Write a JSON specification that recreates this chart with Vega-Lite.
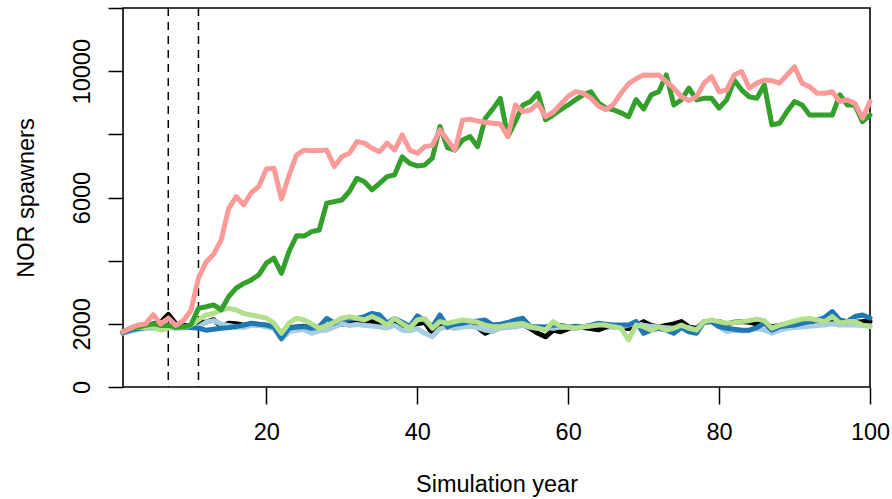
{
"$schema":"https://vega.github.io/schema/vega-lite/v6.json",
"width":747,"height":379,
"autosize":{"type":"none"},
"padding":{"left":123,"top":8,"right":22,"bottom":112},
"background":"white",
"config":{"view":{"stroke":"black","strokeWidth":1.6},"font":"Liberation Sans",
"axis":{"grid":false,"domain":false,"tickColor":"black","tickWidth":1.5,"labelColor":"black","titleColor":"black","labelFont":"Liberation Sans","titleFont":"Liberation Sans","titleFontWeight":"normal","labelFontSize":23.5,"titleFontSize":23.5}},
"layer":[
{"data":{"values":[{"year":7},{"year":11}]},
"mark":{"type":"rule","strokeDash":[8,6],"strokeWidth":1.5,"color":"black"},
"encoding":{"x":{"field":"year","type":"quantitative","title":"Simulation year","scale":{"domain":[1,100],"nice":false,"zero":false}}}},
{"data":{"values":[
{"series":"K","year":1,"value":1720},{"series":"K","year":2,"value":1820},{"series":"K","year":3,"value":1870},{"series":"K","year":4,"value":1900},{"series":"K","year":5,"value":2000},{"series":"K","year":6,"value":2050},{"series":"K","year":7,"value":2300},{"series":"K","year":8,"value":2000},{"series":"K","year":9,"value":1950},{"series":"K","year":10,"value":1950},
{"series":"K","year":11,"value":2050},{"series":"K","year":12,"value":2050},{"series":"K","year":13,"value":2130},{"series":"K","year":14,"value":1920},{"series":"K","year":15,"value":2020},{"series":"K","year":16,"value":2000},{"series":"K","year":17,"value":1960},{"series":"K","year":18,"value":2000},{"series":"K","year":19,"value":1980},{"series":"K","year":20,"value":1950},
{"series":"K","year":21,"value":1900},{"series":"K","year":22,"value":1620},{"series":"K","year":23,"value":1880},{"series":"K","year":24,"value":1900},{"series":"K","year":25,"value":1920},{"series":"K","year":26,"value":1880},{"series":"K","year":27,"value":1850},{"series":"K","year":28,"value":1900},{"series":"K","year":29,"value":1950},{"series":"K","year":30,"value":1990},
{"series":"K","year":31,"value":2000},{"series":"K","year":32,"value":2050},{"series":"K","year":33,"value":2100},{"series":"K","year":34,"value":2080},{"series":"K","year":35,"value":2000},{"series":"K","year":36,"value":1900},{"series":"K","year":37,"value":2050},{"series":"K","year":38,"value":1900},{"series":"K","year":39,"value":1930},{"series":"K","year":40,"value":2000},
{"series":"K","year":41,"value":2050},{"series":"K","year":42,"value":1700},{"series":"K","year":43,"value":1950},{"series":"K","year":44,"value":1900},{"series":"K","year":45,"value":1950},{"series":"K","year":46,"value":2000},{"series":"K","year":47,"value":2030},{"series":"K","year":48,"value":1880},{"series":"K","year":49,"value":1700},{"series":"K","year":50,"value":1800},
{"series":"K","year":51,"value":1880},{"series":"K","year":52,"value":1900},{"series":"K","year":53,"value":1950},{"series":"K","year":54,"value":1980},{"series":"K","year":55,"value":1850},{"series":"K","year":56,"value":1700},{"series":"K","year":57,"value":1590},{"series":"K","year":58,"value":1800},{"series":"K","year":59,"value":1750},{"series":"K","year":60,"value":1850},
{"series":"K","year":61,"value":1900},{"series":"K","year":62,"value":1880},{"series":"K","year":63,"value":1850},{"series":"K","year":64,"value":1810},{"series":"K","year":65,"value":1900},{"series":"K","year":66,"value":1920},{"series":"K","year":67,"value":1880},{"series":"K","year":68,"value":1850},{"series":"K","year":69,"value":1950},{"series":"K","year":70,"value":2070},
{"series":"K","year":71,"value":1950},{"series":"K","year":72,"value":1900},{"series":"K","year":73,"value":1950},{"series":"K","year":74,"value":2000},{"series":"K","year":75,"value":2070},{"series":"K","year":76,"value":1900},{"series":"K","year":77,"value":1850},{"series":"K","year":78,"value":2050},{"series":"K","year":79,"value":2070},{"series":"K","year":80,"value":2070},
{"series":"K","year":81,"value":2000},{"series":"K","year":82,"value":2050},{"series":"K","year":83,"value":2070},{"series":"K","year":84,"value":2050},{"series":"K","year":85,"value":2000},{"series":"K","year":86,"value":2020},{"series":"K","year":87,"value":1900},{"series":"K","year":88,"value":1950},{"series":"K","year":89,"value":2000},{"series":"K","year":90,"value":2020},
{"series":"K","year":91,"value":2050},{"series":"K","year":92,"value":2050},{"series":"K","year":93,"value":2100},{"series":"K","year":94,"value":2120},{"series":"K","year":95,"value":2100},{"series":"K","year":96,"value":2050},{"series":"K","year":97,"value":2020},{"series":"K","year":98,"value":2050},{"series":"K","year":99,"value":2070},{"series":"K","year":100,"value":2070},
{"series":"LB","year":1,"value":1700},{"series":"LB","year":2,"value":1760},{"series":"LB","year":3,"value":1820},{"series":"LB","year":4,"value":1850},{"series":"LB","year":5,"value":1870},{"series":"LB","year":6,"value":1850},{"series":"LB","year":7,"value":1880},{"series":"LB","year":8,"value":1860},{"series":"LB","year":9,"value":1870},{"series":"LB","year":10,"value":1900},
{"series":"LB","year":11,"value":1900},{"series":"LB","year":12,"value":2050},{"series":"LB","year":13,"value":2100},{"series":"LB","year":14,"value":2000},{"series":"LB","year":15,"value":1950},{"series":"LB","year":16,"value":1900},{"series":"LB","year":17,"value":1880},{"series":"LB","year":18,"value":1950},{"series":"LB","year":19,"value":1950},{"series":"LB","year":20,"value":1900},
{"series":"LB","year":21,"value":1850},{"series":"LB","year":22,"value":1500},{"series":"LB","year":23,"value":1750},{"series":"LB","year":24,"value":1800},{"series":"LB","year":25,"value":1820},{"series":"LB","year":26,"value":1700},{"series":"LB","year":27,"value":1780},{"series":"LB","year":28,"value":1800},{"series":"LB","year":29,"value":1900},{"series":"LB","year":30,"value":2000},
{"series":"LB","year":31,"value":1950},{"series":"LB","year":32,"value":1980},{"series":"LB","year":33,"value":1950},{"series":"LB","year":34,"value":1930},{"series":"LB","year":35,"value":1900},{"series":"LB","year":36,"value":1870},{"series":"LB","year":37,"value":1950},{"series":"LB","year":38,"value":1800},{"series":"LB","year":39,"value":1780},{"series":"LB","year":40,"value":1850},
{"series":"LB","year":41,"value":1700},{"series":"LB","year":42,"value":1590},{"series":"LB","year":43,"value":1850},{"series":"LB","year":44,"value":1910},{"series":"LB","year":45,"value":1850},{"series":"LB","year":46,"value":1900},{"series":"LB","year":47,"value":1920},{"series":"LB","year":48,"value":1880},{"series":"LB","year":49,"value":1800},{"series":"LB","year":50,"value":1760},
{"series":"LB","year":51,"value":1860},{"series":"LB","year":52,"value":1880},{"series":"LB","year":53,"value":1900},{"series":"LB","year":54,"value":1960},{"series":"LB","year":55,"value":1880},{"series":"LB","year":56,"value":1860},{"series":"LB","year":57,"value":1880},{"series":"LB","year":58,"value":1860},{"series":"LB","year":59,"value":1900},{"series":"LB","year":60,"value":1880},
{"series":"LB","year":61,"value":1850},{"series":"LB","year":62,"value":1900},{"series":"LB","year":63,"value":1950},{"series":"LB","year":64,"value":2010},{"series":"LB","year":65,"value":1960},{"series":"LB","year":66,"value":1880},{"series":"LB","year":67,"value":1900},{"series":"LB","year":68,"value":1960},{"series":"LB","year":69,"value":2010},{"series":"LB","year":70,"value":1960},
{"series":"LB","year":71,"value":1920},{"series":"LB","year":72,"value":1900},{"series":"LB","year":73,"value":1880},{"series":"LB","year":74,"value":1860},{"series":"LB","year":75,"value":1900},{"series":"LB","year":76,"value":1880},{"series":"LB","year":77,"value":1800},{"series":"LB","year":78,"value":2050},{"series":"LB","year":79,"value":2100},{"series":"LB","year":80,"value":1900},
{"series":"LB","year":81,"value":1750},{"series":"LB","year":82,"value":1800},{"series":"LB","year":83,"value":1780},{"series":"LB","year":84,"value":1800},{"series":"LB","year":85,"value":1850},{"series":"LB","year":86,"value":1800},{"series":"LB","year":87,"value":1700},{"series":"LB","year":88,"value":1800},{"series":"LB","year":89,"value":1850},{"series":"LB","year":90,"value":1880},
{"series":"LB","year":91,"value":1900},{"series":"LB","year":92,"value":1920},{"series":"LB","year":93,"value":1950},{"series":"LB","year":94,"value":1960},{"series":"LB","year":95,"value":2000},{"series":"LB","year":96,"value":1960},{"series":"LB","year":97,"value":1960},{"series":"LB","year":98,"value":1960},{"series":"LB","year":99,"value":1950},{"series":"LB","year":100,"value":1940},
{"series":"DB","year":1,"value":1720},{"series":"DB","year":2,"value":1800},{"series":"DB","year":3,"value":1850},{"series":"DB","year":4,"value":1880},{"series":"DB","year":5,"value":1910},{"series":"DB","year":6,"value":1900},{"series":"DB","year":7,"value":1900},{"series":"DB","year":8,"value":1880},{"series":"DB","year":9,"value":1900},{"series":"DB","year":10,"value":1880},
{"series":"DB","year":11,"value":1860},{"series":"DB","year":12,"value":1800},{"series":"DB","year":13,"value":1830},{"series":"DB","year":14,"value":1860},{"series":"DB","year":15,"value":1880},{"series":"DB","year":16,"value":1910},{"series":"DB","year":17,"value":1960},{"series":"DB","year":18,"value":2020},{"series":"DB","year":19,"value":1990},{"series":"DB","year":20,"value":1960},
{"series":"DB","year":21,"value":1900},{"series":"DB","year":22,"value":1540},{"series":"DB","year":23,"value":1860},{"series":"DB","year":24,"value":1900},{"series":"DB","year":25,"value":1910},{"series":"DB","year":26,"value":1860},{"series":"DB","year":27,"value":1900},{"series":"DB","year":28,"value":2170},{"series":"DB","year":29,"value":2020},{"series":"DB","year":30,"value":2170},
{"series":"DB","year":31,"value":2150},{"series":"DB","year":32,"value":2170},{"series":"DB","year":33,"value":2230},{"series":"DB","year":34,"value":2330},{"series":"DB","year":35,"value":2280},{"series":"DB","year":36,"value":2020},{"series":"DB","year":37,"value":2170},{"series":"DB","year":38,"value":2050},{"series":"DB","year":39,"value":1910},{"series":"DB","year":40,"value":2250},
{"series":"DB","year":41,"value":2100},{"series":"DB","year":42,"value":1910},{"series":"DB","year":43,"value":2280},{"series":"DB","year":44,"value":1910},{"series":"DB","year":45,"value":1990},{"series":"DB","year":46,"value":2020},{"series":"DB","year":47,"value":2070},{"series":"DB","year":48,"value":2090},{"series":"DB","year":49,"value":2120},{"series":"DB","year":50,"value":1960},
{"series":"DB","year":51,"value":1990},{"series":"DB","year":52,"value":2040},{"series":"DB","year":53,"value":2120},{"series":"DB","year":54,"value":2175},{"series":"DB","year":55,"value":1910},{"series":"DB","year":56,"value":1910},{"series":"DB","year":57,"value":1900},{"series":"DB","year":58,"value":1960},{"series":"DB","year":59,"value":1950},{"series":"DB","year":60,"value":1910},
{"series":"DB","year":61,"value":1920},{"series":"DB","year":62,"value":1910},{"series":"DB","year":63,"value":1950},{"series":"DB","year":64,"value":2020},{"series":"DB","year":65,"value":1990},{"series":"DB","year":66,"value":1960},{"series":"DB","year":67,"value":1960},{"series":"DB","year":68,"value":1960},{"series":"DB","year":69,"value":2070},{"series":"DB","year":70,"value":1700},
{"series":"DB","year":71,"value":1800},{"series":"DB","year":72,"value":1860},{"series":"DB","year":73,"value":1800},{"series":"DB","year":74,"value":1700},{"series":"DB","year":75,"value":1880},{"series":"DB","year":76,"value":1750},{"series":"DB","year":77,"value":1700},{"series":"DB","year":78,"value":2070},{"series":"DB","year":79,"value":2070},{"series":"DB","year":80,"value":1910},
{"series":"DB","year":81,"value":1860},{"series":"DB","year":82,"value":1830},{"series":"DB","year":83,"value":1800},{"series":"DB","year":84,"value":1800},{"series":"DB","year":85,"value":1880},{"series":"DB","year":86,"value":2020},{"series":"DB","year":87,"value":1800},{"series":"DB","year":88,"value":1910},{"series":"DB","year":89,"value":1940},{"series":"DB","year":90,"value":1960},
{"series":"DB","year":91,"value":2020},{"series":"DB","year":92,"value":2070},{"series":"DB","year":93,"value":2120},{"series":"DB","year":94,"value":2200},{"series":"DB","year":95,"value":2390},{"series":"DB","year":96,"value":2120},{"series":"DB","year":97,"value":2070},{"series":"DB","year":98,"value":2230},{"series":"DB","year":99,"value":2280},{"series":"DB","year":100,"value":2180},
{"series":"LG","year":1,"value":1750},{"series":"LG","year":2,"value":1860},{"series":"LG","year":3,"value":1900},{"series":"LG","year":4,"value":1880},{"series":"LG","year":5,"value":1900},{"series":"LG","year":6,"value":1800},{"series":"LG","year":7,"value":1860},{"series":"LG","year":8,"value":1910},{"series":"LG","year":9,"value":1880},{"series":"LG","year":10,"value":1960},
{"series":"LG","year":11,"value":2120},{"series":"LG","year":12,"value":2280},{"series":"LG","year":13,"value":2330},{"series":"LG","year":14,"value":2440},{"series":"LG","year":15,"value":2490},{"series":"LG","year":16,"value":2440},{"series":"LG","year":17,"value":2330},{"series":"LG","year":18,"value":2280},{"series":"LG","year":19,"value":2230},{"series":"LG","year":20,"value":2180},
{"series":"LG","year":21,"value":2020},{"series":"LG","year":22,"value":1700},{"series":"LG","year":23,"value":2020},{"series":"LG","year":24,"value":2180},{"series":"LG","year":25,"value":2120},{"series":"LG","year":26,"value":2000},{"series":"LG","year":27,"value":1860},{"series":"LG","year":28,"value":1950},{"series":"LG","year":29,"value":2050},{"series":"LG","year":30,"value":2175},
{"series":"LG","year":31,"value":2230},{"series":"LG","year":32,"value":2175},{"series":"LG","year":33,"value":2120},{"series":"LG","year":34,"value":2230},{"series":"LG","year":35,"value":2120},{"series":"LG","year":36,"value":1960},{"series":"LG","year":37,"value":2170},{"series":"LG","year":38,"value":2000},{"series":"LG","year":39,"value":1860},{"series":"LG","year":40,"value":2120},
{"series":"LG","year":41,"value":2170},{"series":"LG","year":42,"value":1860},{"series":"LG","year":43,"value":2070},{"series":"LG","year":44,"value":2020},{"series":"LG","year":45,"value":2070},{"series":"LG","year":46,"value":2120},{"series":"LG","year":47,"value":2090},{"series":"LG","year":48,"value":2050},{"series":"LG","year":49,"value":1960},{"series":"LG","year":50,"value":1910},
{"series":"LG","year":51,"value":1910},{"series":"LG","year":52,"value":1960},{"series":"LG","year":53,"value":1990},{"series":"LG","year":54,"value":2010},{"series":"LG","year":55,"value":1910},{"series":"LG","year":56,"value":1860},{"series":"LG","year":57,"value":1800},{"series":"LG","year":58,"value":2070},{"series":"LG","year":59,"value":1910},{"series":"LG","year":60,"value":1910},
{"series":"LG","year":61,"value":1860},{"series":"LG","year":62,"value":1910},{"series":"LG","year":63,"value":1930},{"series":"LG","year":64,"value":1960},{"series":"LG","year":65,"value":1960},{"series":"LG","year":66,"value":1910},{"series":"LG","year":67,"value":1860},{"series":"LG","year":68,"value":1490},{"series":"LG","year":69,"value":1960},{"series":"LG","year":70,"value":1910},
{"series":"LG","year":71,"value":1800},{"series":"LG","year":72,"value":1910},{"series":"LG","year":73,"value":1800},{"series":"LG","year":74,"value":1860},{"series":"LG","year":75,"value":1960},{"series":"LG","year":76,"value":1860},{"series":"LG","year":77,"value":1800},{"series":"LG","year":78,"value":2070},{"series":"LG","year":79,"value":2120},{"series":"LG","year":80,"value":2070},
{"series":"LG","year":81,"value":2020},{"series":"LG","year":82,"value":2040},{"series":"LG","year":83,"value":2070},{"series":"LG","year":84,"value":2100},{"series":"LG","year":85,"value":2150},{"series":"LG","year":86,"value":2100},{"series":"LG","year":87,"value":1860},{"series":"LG","year":88,"value":1960},{"series":"LG","year":89,"value":2020},{"series":"LG","year":90,"value":2090},
{"series":"LG","year":91,"value":2150},{"series":"LG","year":92,"value":2170},{"series":"LG","year":93,"value":2120},{"series":"LG","year":94,"value":2070},{"series":"LG","year":95,"value":2230},{"series":"LG","year":96,"value":2020},{"series":"LG","year":97,"value":2070},{"series":"LG","year":98,"value":2070},{"series":"LG","year":99,"value":1960},{"series":"LG","year":100,"value":1910},
{"series":"G","year":1,"value":1750},{"series":"G","year":2,"value":1860},{"series":"G","year":3,"value":1900},{"series":"G","year":4,"value":1950},{"series":"G","year":5,"value":2000},{"series":"G","year":6,"value":1950},{"series":"G","year":7,"value":1950},{"series":"G","year":8,"value":1900},{"series":"G","year":9,"value":1900},{"series":"G","year":10,"value":1970},
{"series":"G","year":11,"value":2490},{"series":"G","year":12,"value":2540},{"series":"G","year":13,"value":2600},{"series":"G","year":14,"value":2440},{"series":"G","year":15,"value":2860},{"series":"G","year":16,"value":3130},{"series":"G","year":17,"value":3280},{"series":"G","year":18,"value":3390},{"series":"G","year":19,"value":3550},{"series":"G","year":20,"value":3920},
{"series":"G","year":21,"value":4080},{"series":"G","year":22,"value":3600},{"series":"G","year":23,"value":4290},{"series":"G","year":24,"value":4790},{"series":"G","year":25,"value":4780},{"series":"G","year":26,"value":4920},{"series":"G","year":27,"value":4970},{"series":"G","year":28,"value":5820},{"series":"G","year":29,"value":5870},{"series":"G","year":30,"value":5920},
{"series":"G","year":31,"value":6190},{"series":"G","year":32,"value":6610},{"series":"G","year":33,"value":6500},{"series":"G","year":34,"value":6240},{"series":"G","year":35,"value":6450},{"series":"G","year":36,"value":6660},{"series":"G","year":37,"value":6720},{"series":"G","year":38,"value":7290},{"series":"G","year":39,"value":7080},{"series":"G","year":40,"value":7000},
{"series":"G","year":41,"value":7030},{"series":"G","year":42,"value":7250},{"series":"G","year":43,"value":8250},{"series":"G","year":44,"value":7580},{"series":"G","year":45,"value":7500},{"series":"G","year":46,"value":7820},{"series":"G","year":47,"value":7930},{"series":"G","year":48,"value":7610},{"series":"G","year":49,"value":8500},{"series":"G","year":50,"value":8800},
{"series":"G","year":51,"value":9140},{"series":"G","year":52,"value":7930},{"series":"G","year":53,"value":8400},{"series":"G","year":54,"value":8930},{"series":"G","year":55,"value":9040},{"series":"G","year":56,"value":9300},{"series":"G","year":57,"value":8460},{"series":"G","year":58,"value":8610},{"series":"G","year":59,"value":8780},{"series":"G","year":60,"value":8930},
{"series":"G","year":61,"value":9100},{"series":"G","year":62,"value":9250},{"series":"G","year":63,"value":9350},{"series":"G","year":64,"value":9000},{"series":"G","year":65,"value":8830},{"series":"G","year":66,"value":8780},{"series":"G","year":67,"value":8680},{"series":"G","year":68,"value":8560},{"series":"G","year":69,"value":9100},{"series":"G","year":70,"value":8800},
{"series":"G","year":71,"value":9250},{"series":"G","year":72,"value":9350},{"series":"G","year":73,"value":9880},{"series":"G","year":74,"value":8930},{"series":"G","year":75,"value":9090},{"series":"G","year":76,"value":9460},{"series":"G","year":77,"value":9090},{"series":"G","year":78,"value":9140},{"series":"G","year":79,"value":9140},{"series":"G","year":80,"value":8830},
{"series":"G","year":81,"value":9090},{"series":"G","year":82,"value":9720},{"series":"G","year":83,"value":9400},{"series":"G","year":84,"value":9190},{"series":"G","year":85,"value":9140},{"series":"G","year":86,"value":9560},{"series":"G","year":87,"value":8300},{"series":"G","year":88,"value":8350},{"series":"G","year":89,"value":8720},{"series":"G","year":90,"value":9040},
{"series":"G","year":91,"value":8930},{"series":"G","year":92,"value":8610},{"series":"G","year":93,"value":8610},{"series":"G","year":94,"value":8610},{"series":"G","year":95,"value":8610},{"series":"G","year":96,"value":9250},{"series":"G","year":97,"value":8930},{"series":"G","year":98,"value":8930},{"series":"G","year":99,"value":8400},{"series":"G","year":100,"value":8610},
{"series":"P","year":1,"value":1750},{"series":"P","year":2,"value":1870},{"series":"P","year":3,"value":1960},{"series":"P","year":4,"value":2000},{"series":"P","year":5,"value":2290},{"series":"P","year":6,"value":2000},{"series":"P","year":7,"value":2180},{"series":"P","year":8,"value":1950},{"series":"P","year":9,"value":2100},{"series":"P","year":10,"value":2420},
{"series":"P","year":11,"value":3450},{"series":"P","year":12,"value":3950},{"series":"P","year":13,"value":4200},{"series":"P","year":14,"value":4650},{"series":"P","year":15,"value":5650},{"series":"P","year":16,"value":6030},{"series":"P","year":17,"value":5770},{"series":"P","year":18,"value":6150},{"series":"P","year":19,"value":6350},{"series":"P","year":20,"value":6900},
{"series":"P","year":21,"value":6930},{"series":"P","year":22,"value":5950},{"series":"P","year":23,"value":6700},{"series":"P","year":24,"value":7350},{"series":"P","year":25,"value":7500},{"series":"P","year":26,"value":7480},{"series":"P","year":27,"value":7490},{"series":"P","year":28,"value":7500},{"series":"P","year":29,"value":6980},{"series":"P","year":30,"value":7290},
{"series":"P","year":31,"value":7400},{"series":"P","year":32,"value":7770},{"series":"P","year":33,"value":7720},{"series":"P","year":34,"value":7560},{"series":"P","year":35,"value":7450},{"series":"P","year":36,"value":7720},{"series":"P","year":37,"value":7500},{"series":"P","year":38,"value":7980},{"series":"P","year":39,"value":7500},{"series":"P","year":40,"value":7400},
{"series":"P","year":41,"value":7610},{"series":"P","year":42,"value":7650},{"series":"P","year":43,"value":8140},{"series":"P","year":44,"value":7820},{"series":"P","year":45,"value":7500},{"series":"P","year":46,"value":8450},{"series":"P","year":47,"value":8480},{"series":"P","year":48,"value":8420},{"series":"P","year":49,"value":8380},{"series":"P","year":50,"value":8350},
{"series":"P","year":51,"value":8330},{"series":"P","year":52,"value":7930},{"series":"P","year":53,"value":8930},{"series":"P","year":54,"value":8720},{"series":"P","year":55,"value":8770},{"series":"P","year":56,"value":8980},{"series":"P","year":57,"value":8560},{"series":"P","year":58,"value":8700},{"series":"P","year":59,"value":8950},{"series":"P","year":60,"value":9200},
{"series":"P","year":61,"value":9350},{"series":"P","year":62,"value":9300},{"series":"P","year":63,"value":9150},{"series":"P","year":64,"value":8900},{"series":"P","year":65,"value":8780},{"series":"P","year":66,"value":8950},{"series":"P","year":67,"value":9300},{"series":"P","year":68,"value":9600},{"series":"P","year":69,"value":9760},{"series":"P","year":70,"value":9880},
{"series":"P","year":71,"value":9870},{"series":"P","year":72,"value":9880},{"series":"P","year":73,"value":9670},{"series":"P","year":74,"value":9460},{"series":"P","year":75,"value":9190},{"series":"P","year":76,"value":9070},{"series":"P","year":77,"value":9190},{"series":"P","year":78,"value":9620},{"series":"P","year":79,"value":9830},{"series":"P","year":80,"value":9350},
{"series":"P","year":81,"value":9400},{"series":"P","year":82,"value":9880},{"series":"P","year":83,"value":9990},{"series":"P","year":84,"value":9460},{"series":"P","year":85,"value":9620},{"series":"P","year":86,"value":9720},{"series":"P","year":87,"value":9700},{"series":"P","year":88,"value":9620},{"series":"P","year":89,"value":9880},{"series":"P","year":90,"value":10140},
{"series":"P","year":91,"value":9620},{"series":"P","year":92,"value":9510},{"series":"P","year":93,"value":9300},{"series":"P","year":94,"value":9300},{"series":"P","year":95,"value":9350},{"series":"P","year":96,"value":9040},{"series":"P","year":97,"value":9090},{"series":"P","year":98,"value":8980},{"series":"P","year":99,"value":8510},{"series":"P","year":100,"value":9040}
]},
"mark":{"type":"line","strokeWidth":5,"strokeJoin":"round","strokeCap":"round"},
"encoding":{
"x":{"field":"year","type":"quantitative","title":"Simulation year","scale":{"domain":[1,100],"nice":false,"zero":false},
"axis":{"values":[20,40,60,80,100],"format":"d","tickSize":17,"labelPadding":16,"titlePadding":29,"labelFlush":false,"labelOverlap":false}},
"y":{"field":"value","type":"quantitative","title":"NOR spawners","scale":{"domain":[0,12000],"nice":false,"zero":true},
"axis":{"values":[0,2000,4000,6000,8000,10000,12000],"labelExpr":"(datum.value == 0 || datum.value % 4000 == 2000) ? format(datum.value, 'd') : ''","tickSize":15,"labelAngle":270,"labelAlign":"center","labelBaseline":"bottom","labelPadding":14,"titlePadding":32,"labelFlush":false,"labelOverlap":false}},
"color":{"field":"series","type":"nominal","legend":null,"scale":{"domain":["K","LB","DB","LG","G","P"],"range":["#000000","#A6CEE3","#1F78B4","#B2DF8A","#33A02C","#FB9A99"]}}
}}
]
}
